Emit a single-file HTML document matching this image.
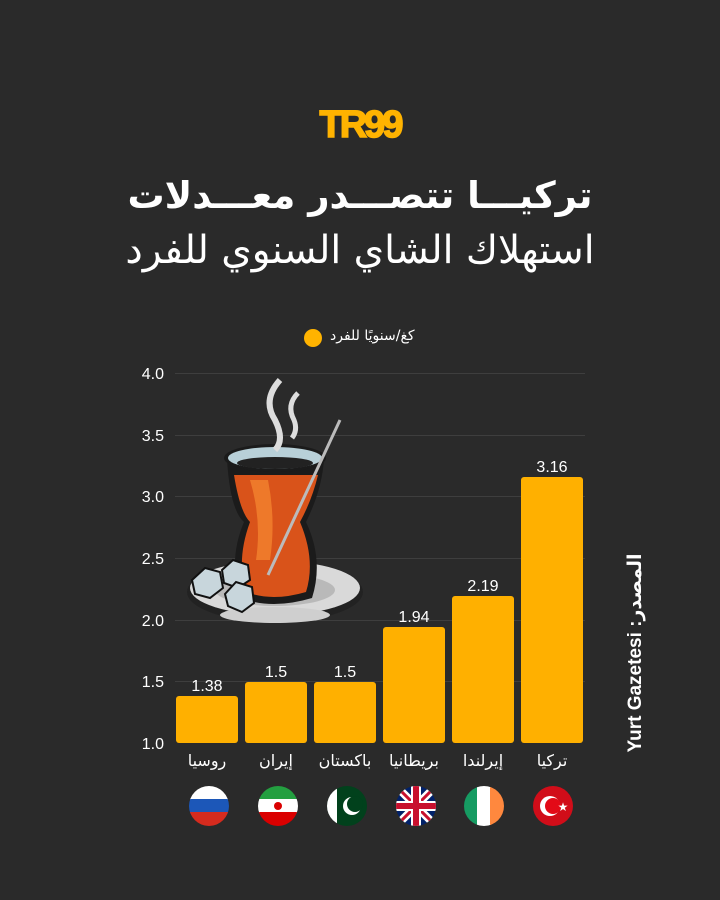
<!DOCTYPE html>
<html><head><meta charset="utf-8"><style>
body{margin:0;width:720px;height:900px;background:#2a2a2a;overflow:hidden;position:relative;font-family:"Liberation Sans","DejaVu Sans",sans-serif;color:#fff}
.t{position:absolute;white-space:nowrap}
</style></head><body>
<div class="t" style="left:0;width:720px;top:104px;text-align:center;font-size:38px;font-weight:900;color:#FFB300;letter-spacing:-3px;-webkit-text-stroke:1.5px #FFB300">TR99</div>
<div class="t" dir="rtl" style="left:0;width:720px;top:174px;text-align:center;font-size:37px;font-weight:bold;font-family:'DejaVu Sans',sans-serif">تركيـــا تتصـــدر معـــدلات</div>
<div class="t" dir="rtl" style="left:0;width:720px;top:228px;text-align:center;font-size:39px;font-family:'DejaVu Sans',sans-serif">استهلاك الشاي السنوي للفرد</div>
<div class="t" style="left:304px;top:329px;width:18px;height:18px;border-radius:50%;background:#FFB300"></div>
<div class="t" dir="rtl" style="left:330px;top:328px;font-size:14px;font-family:'DejaVu Sans',sans-serif">كغ/سنويًا للفرد</div>
<svg class="t" style="left:0;top:0" width="720" height="900">
<g stroke="#3e3e3e" stroke-width="1">
<line x1="175" x2="585" y1="373.5" y2="373.5"/><line x1="175" x2="585" y1="435.5" y2="435.5"/><line x1="175" x2="585" y1="496.5" y2="496.5"/><line x1="175" x2="585" y1="558.5" y2="558.5"/><line x1="175" x2="585" y1="620.5" y2="620.5"/><line x1="175" x2="585" y1="681.5" y2="681.5"/>
</g>
<g fill="#fff" font-size="16" text-anchor="end" font-family="Liberation Sans">
<text x="164" y="379">4.0</text><text x="164" y="441">3.5</text><text x="164" y="502">3.0</text><text x="164" y="564">2.5</text><text x="164" y="626">2.0</text><text x="164" y="687">1.5</text><text x="164" y="749">1.0</text>
</g>
<g fill="#FFB000">
<rect x="176" y="696" width="62" height="47" rx="3"/>
<rect x="245" y="682" width="62" height="61" rx="3"/>
<rect x="314" y="682" width="62" height="61" rx="3"/>
<rect x="383" y="627" width="62" height="116" rx="3"/>
<rect x="452" y="596" width="62" height="147" rx="3"/>
<rect x="521" y="477" width="62" height="266" rx="3"/>
</g>
<g fill="#fff" font-size="16" text-anchor="middle" font-family="Liberation Sans">
<text x="207" y="691">1.38</text><text x="276" y="677">1.5</text><text x="345" y="677">1.5</text><text x="414" y="622">1.94</text><text x="483" y="591">2.19</text><text x="552" y="472">3.16</text>
</g>
<g fill="#fff" font-size="16" text-anchor="middle" font-family="DejaVu Sans">
<text x="207" y="766">روسيا</text><text x="276" y="766">إيران</text><text x="345" y="766">باكستان</text><text x="414" y="766">بريطانيا</text><text x="483" y="766">إيرلندا</text><text x="552" y="766">تركيا</text>
</g>
<text transform="translate(641,653) rotate(-90)" fill="#fff" font-size="19" font-weight="bold" text-anchor="middle" font-family="Liberation Sans, DejaVu Sans">Yurt Gazetesi  :المصدر</text>
<defs>
<clipPath id="c1"><circle cx="209" cy="806" r="20"/></clipPath><clipPath id="c2"><circle cx="278" cy="806" r="20"/></clipPath><clipPath id="c3"><circle cx="347" cy="806" r="20"/></clipPath><clipPath id="c4"><circle cx="416" cy="806" r="20"/></clipPath><clipPath id="c5"><circle cx="484" cy="806" r="20"/></clipPath>
</defs>
<g clip-path="url(#c1)"><rect x="189" y="786" width="40" height="14" fill="#fff"/><rect x="189" y="799" width="40" height="14" fill="#1c57b8"/><rect x="189" y="812" width="40" height="14" fill="#d52b1e"/></g>
<g clip-path="url(#c2)"><rect x="258" y="786" width="40" height="14" fill="#239f40"/><rect x="258" y="799" width="40" height="14" fill="#fff"/><rect x="258" y="812" width="40" height="14" fill="#da0000"/><circle cx="278" cy="806" r="4" fill="#da0000"/></g>
<g clip-path="url(#c3)"><rect x="327" y="786" width="40" height="40" fill="#01411c"/><rect x="327" y="786" width="10" height="40" fill="#fff"/><circle cx="352" cy="806" r="9" fill="#fff"/><circle cx="355" cy="804" r="8" fill="#01411c"/></g>
<g clip-path="url(#c4)"><rect x="396" y="786" width="40" height="40" fill="#012169"/><path d="M396 786L436 826M436 786L396 826" stroke="#fff" stroke-width="8"/><path d="M396 786L436 826M436 786L396 826" stroke="#c8102e" stroke-width="3"/><path d="M416 786V826M396 806H436" stroke="#fff" stroke-width="10"/><path d="M416 786V826M396 806H436" stroke="#c8102e" stroke-width="6"/></g>
<g clip-path="url(#c5)"><rect x="464" y="786" width="14" height="40" fill="#169b62"/><rect x="477" y="786" width="14" height="40" fill="#fff"/><rect x="490" y="786" width="14" height="40" fill="#ff883e"/></g>
<circle cx="553" cy="806" r="20" fill="#e30a17" opacity=".9"/><circle cx="550" cy="806" r="10" fill="#fff"/><circle cx="553" cy="806" r="8" fill="#e30a17"/><text x="563" y="811" fill="#fff" font-size="12" text-anchor="middle">★</text>
<ellipse cx="275" cy="592" rx="88" ry="30" fill="#222"/>
<ellipse cx="275" cy="588" rx="85" ry="27" fill="#d9d9d9"/>
<ellipse cx="275" cy="590" rx="60" ry="16" fill="#b9b9b9"/>
<ellipse cx="275" cy="615" rx="55" ry="8" fill="#cfcfcf"/>
<path d="M227 459 Q230 510 244 522 Q228 560 240 598 Q272 610 312 598 Q324 560 306 522 Q322 490 324 459 Z" fill="#1b1b1b"/>
<path d="M234 475 Q240 512 250 522 Q236 560 246 592 Q272 602 306 592 Q316 560 300 522 Q312 500 318 475 Z" fill="#d9531a"/>
<path d="M250 480 Q262 520 256 560 L270 560 Q276 520 268 480 Z" fill="#f2832e" opacity=".8"/>
<ellipse cx="275" cy="458" rx="51" ry="14" fill="#1b1b1b"/>
<ellipse cx="275" cy="458" rx="47" ry="11" fill="#b8d0d8"/>
<ellipse cx="275" cy="463" rx="38" ry="6" fill="#222"/>
<path d="M268 575 L340 420" stroke="#bbb" stroke-width="3"/>
<path d="M280 380 Q262 400 275 420 Q285 440 275 450" stroke="#ddd" stroke-width="6" fill="none"/>
<path d="M298 393 Q286 405 294 420 Q298 430 292 438" stroke="#ddd" stroke-width="5" fill="none"/>
<g stroke="#111" stroke-width="2" fill="#c8d6dc"><polygon points="192,580 205,568 220,572 223,588 210,598 195,594"/><polygon points="222,570 233,560 248,565 250,580 238,588 224,583"/><polygon points="225,594 236,582 252,587 254,603 242,612 228,606"/></g>
</svg>
</body></html>
